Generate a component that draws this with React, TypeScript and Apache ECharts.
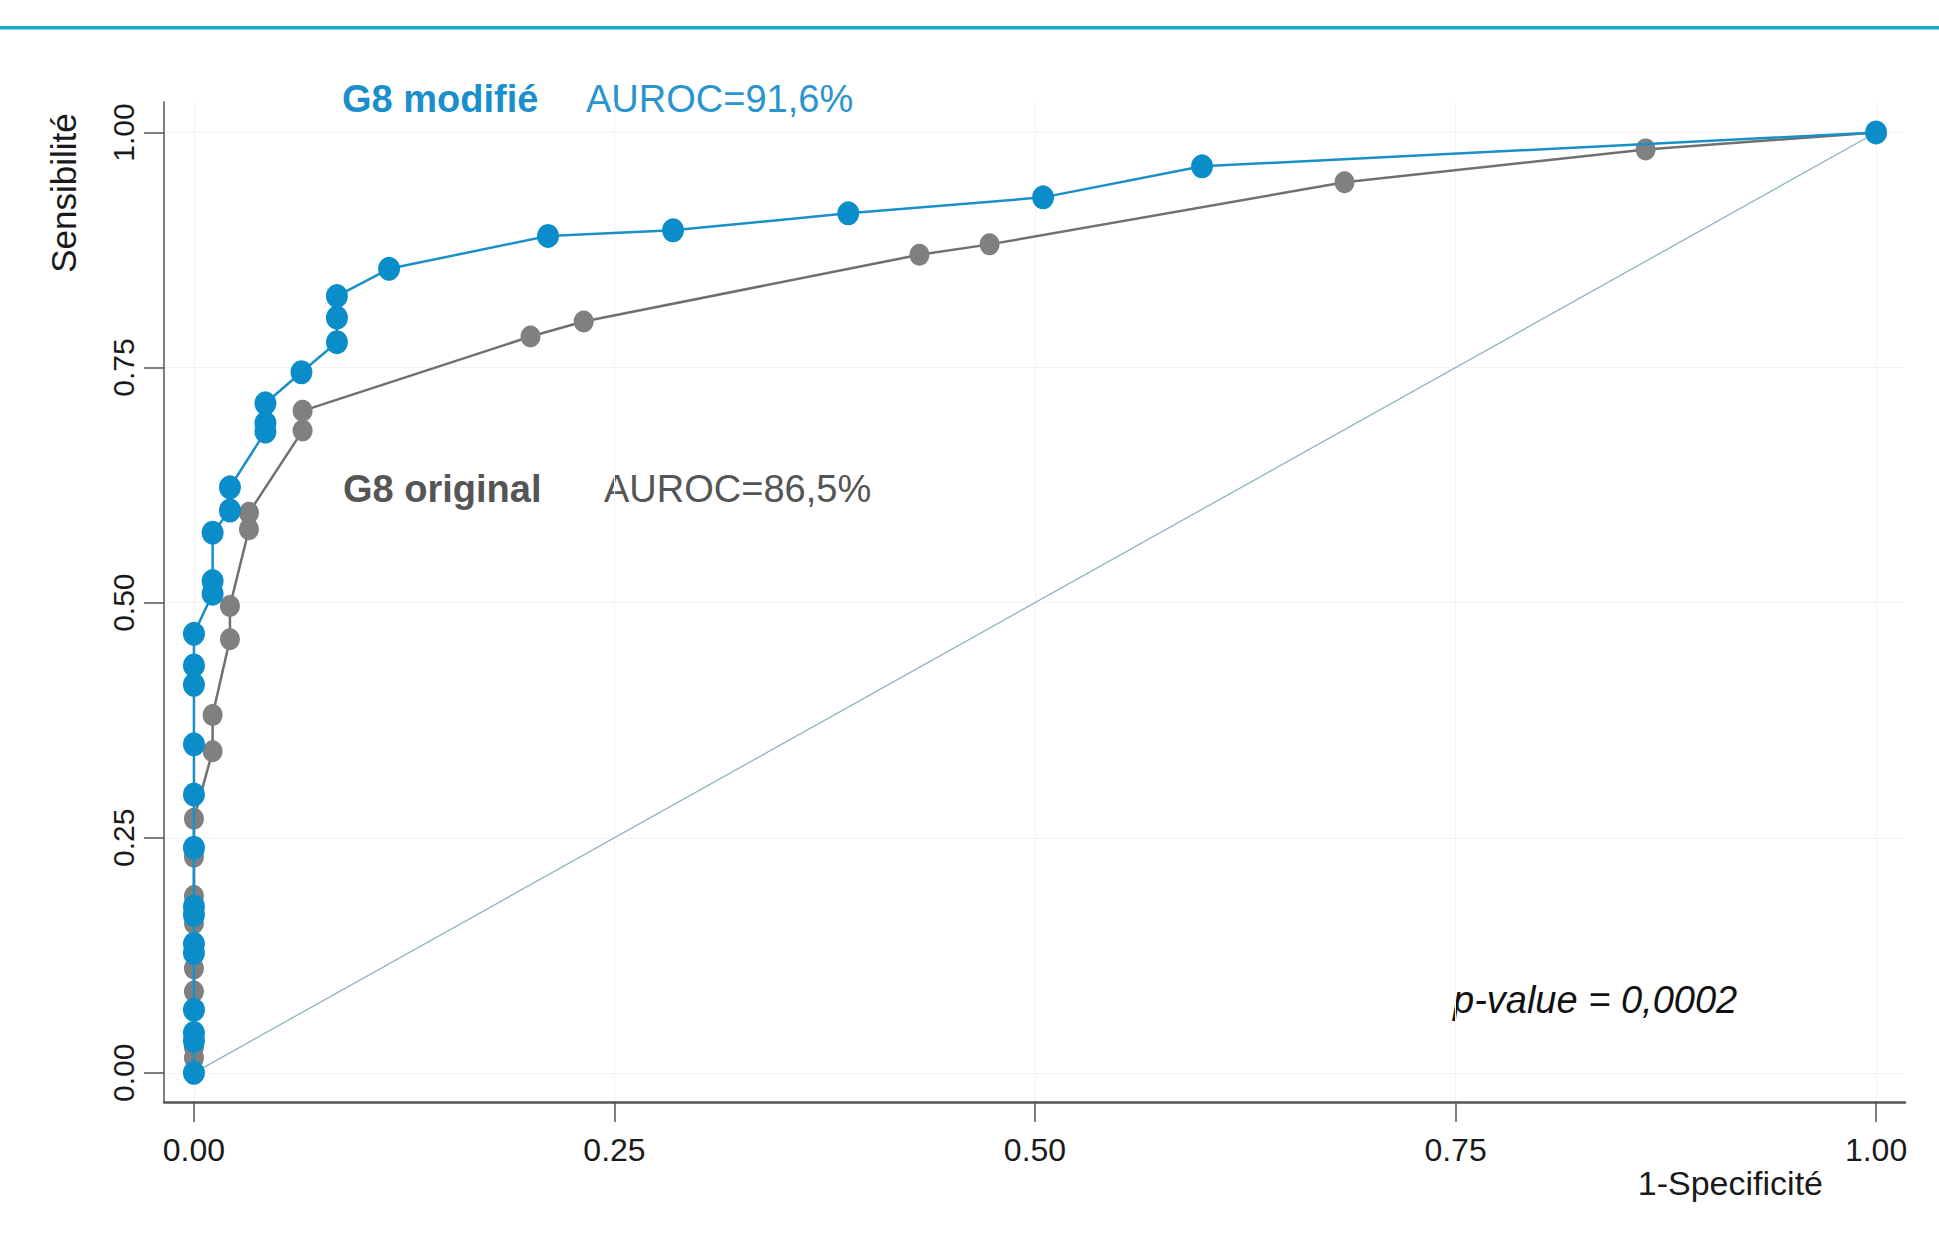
import React, { useEffect, useRef } from "react";
import * as echarts from "echarts";

// Tick values
const xTicks = [0, 0.25, 0.5, 0.75, 1];
const yTicks = [0, 0.25, 0.5, 0.75, 1];

// G8 modifié ROC points (1-Specificité, Sensibilité)
const modifX = [0, 0, 0, 0, 0, 0, 0, 0, 0, 0, 0, 0, 0, 0, 0.0111, 0.0111, 0.0111, 0.0214, 0.0214, 0.0425, 0.0425, 0.0425, 0.0639, 0.085, 0.085, 0.085, 0.116, 0.2105, 0.2848, 0.389, 0.5048, 0.5993, 1];
const modifY = [0, 0.034, 0.0425, 0.067, 0.1274, 0.137, 0.168, 0.177, 0.2395, 0.2959, 0.3494, 0.4127, 0.4333, 0.4669, 0.5096, 0.5229, 0.5744, 0.598, 0.6227, 0.682, 0.691, 0.712, 0.745, 0.777, 0.803, 0.826, 0.855, 0.89, 0.896, 0.914, 0.931, 0.964, 1];

// G8 original ROC points
const origX = [0, 0, 0, 0, 0, 0, 0, 0, 0, 0.0111, 0.0111, 0.0214, 0.0214, 0.0327, 0.0327, 0.0646, 0.0646, 0.2001, 0.2317, 0.4313, 0.473, 0.684, 0.863, 1];
const origY = [0, 0.016, 0.027, 0.0866, 0.111, 0.159, 0.188, 0.2298, 0.2703, 0.342, 0.3806, 0.461, 0.4965, 0.578, 0.5957, 0.683, 0.704, 0.783, 0.799, 0.87, 0.881, 0.947, 0.982, 1];

// Reference diagonal
const diagX = [0, 1];
const diagY = [0, 1];

const zip = (xs: number[], ys: number[]) => xs.map((x, i) => [x, ys[i]]);

const FONT = "Liberation Sans";

export default function App() {
  const ref = useRef<HTMLDivElement>(null);
  useEffect(() => {
    document.body.style.margin = "0";
    const chart = echarts.init(ref.current!, null, { renderer: "svg" });
    chart.setOption({
      animation: false,
      backgroundColor: "#ffffff",
      grid: { left: 164, right: 34, top: 102, bottom: 145, containLabel: false },
      xAxis: {
        type: "value",
        min: -0.0178,
        max: 1.0172,
        axisLine: { show: true, onZero: false, lineStyle: { color: "#555", width: 2.5 } },
        axisTick: { show: true, length: 20, customValues: xTicks, lineStyle: { color: "#555", width: 1.5 } },
        axisLabel: {
          customValues: xTicks,
          formatter: (v: number) => v.toFixed(2),
          fontSize: 32,
          fontFamily: FONT,
          color: "#1a1a1a",
          margin: 32,
        },
        splitLine: { show: true, lineStyle: { color: "#f3f3f3", width: 1 } },
      },
      yAxis: {
        type: "value",
        min: -0.031,
        max: 1.0324,
        axisLine: { show: true, onZero: false, lineStyle: { color: "#555", width: 1.5 } },
        axisTick: { show: true, length: 20, customValues: yTicks, lineStyle: { color: "#555", width: 1.5 } },
        axisLabel: {
          customValues: yTicks,
          formatter: (v: number) => v.toFixed(2),
          fontSize: 30,
          fontFamily: FONT,
          color: "#1a1a1a",
          rotate: 90,
          margin: 26,
        },
        splitLine: { show: true, lineStyle: { color: "#f3f3f3", width: 1 } },
      },
      series: [
        {
          type: "line",
          data: zip(diagX, diagY),
          symbol: "none",
          lineStyle: { color: "#8db4c2", width: 1.3 },
          z: 1,
        },
        {
          type: "line",
          name: "G8 original",
          data: zip(origX, origY),
          symbol: "circle",
          symbolSize: [20, 22],
          itemStyle: { color: "#808080" },
          lineStyle: { color: "#707070", width: 2.5 },
          z: 2,
        },
        {
          type: "line",
          name: "G8 modifié",
          data: zip(modifX, modifY),
          symbol: "circle",
          symbolSize: [22, 24],
          itemStyle: { color: "#0b8dc9" },
          lineStyle: { color: "#1a90c8", width: 2.5 },
          z: 3,
        },
      ],
      graphic: [
        { type: "rect", left: 0, top: 26, shape: { width: 1939, height: 3.5 }, style: { fill: "#19aac8" } },
        {
          type: "text", x: 342, y: 99,
          style: { text: "G8 modifié", font: `bold 38px "${FONT}"`, fill: "#1a8fcc", align: "left", verticalAlign: "middle" },
        },
        {
          type: "text", x: 586, y: 99,
          style: { text: "AUROC=91,6%", font: `38px "${FONT}"`, fill: "#2a94cf", align: "left", verticalAlign: "middle" },
        },
        {
          type: "text", x: 343, y: 489,
          style: { text: "G8 original", font: `bold 38px "${FONT}"`, fill: "#555555", align: "left", verticalAlign: "middle" },
        },
        {
          type: "text", x: 604, y: 489,
          style: { text: "AUROC=86,5%", font: `38px "${FONT}"`, fill: "#555555", align: "left", verticalAlign: "middle" },
        },
        {
          type: "text", x: 1453, y: 1000,
          style: { text: "p-value = 0,0002", font: `italic 38px "${FONT}"`, fill: "#111111", align: "left", verticalAlign: "middle" },
        },
        {
          type: "text", x: 1823, y: 1183,
          style: { text: "1-Specificité", font: `34px "${FONT}"`, fill: "#1a1a1a", align: "right", verticalAlign: "middle" },
        },
        {
          type: "text", x: 63, y: 193, rotation: Math.PI / 2,
          style: { text: "Sensibilité", font: `35px "${FONT}"`, fill: "#1a1a1a", align: "center", verticalAlign: "middle" },
        },
      ],
    });
    return () => chart.dispose();
  }, []);
  return <div ref={ref} style={{ width: 1939, height: 1247, background: "#fff" }} />;
}
